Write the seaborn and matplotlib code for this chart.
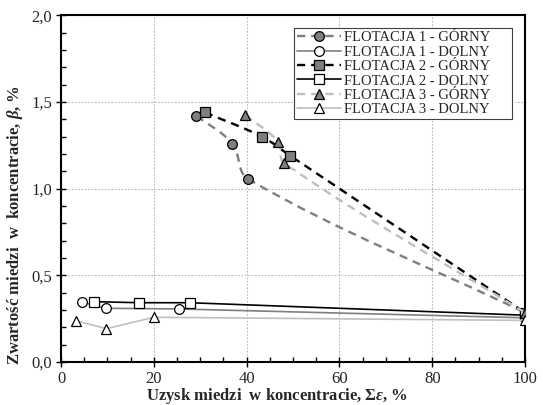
import numpy as np
import pandas as pd
import matplotlib
matplotlib.use("Agg")
import matplotlib.pyplot as plt
import seaborn as sns
from matplotlib.path import Path
from matplotlib.patches import PathPatch
from matplotlib.lines import Line2D
from matplotlib.ticker import MultipleLocator, FuncFormatter

# ---- data ----
f1g_x = [29.2, 36.9, 40.4, 100.0]
f1g_y = [1.42, 1.26, 1.054, 0.285]
f1d_x = [4.5, 9.8, 25.4, 100.0]
f1d_y = [0.345, 0.31, 0.306, 0.255]
f2g_x = [31.0, 43.3, 49.4, 100.0]
f2g_y = [1.44, 1.30, 1.19, 0.285]
f2d_x = [7.2, 16.9, 27.7, 100.0]
f2d_y = [0.348, 0.342, 0.342, 0.27]
f3g_x = [39.7, 46.8, 48.1, 100.0]
f3g_y = [1.425, 1.27, 1.147, 0.285]
f3d_x = [3.2, 9.8, 20.0, 100.0]
f3d_y = [0.238, 0.192, 0.258, 0.24]

labels = ["FLOTACJA 1 - GÓRNY", "FLOTACJA 1 - DOLNY",
          "FLOTACJA 2 - GÓRNY", "FLOTACJA 2 - DOLNY",
          "FLOTACJA 3 - GÓRNY", "FLOTACJA 3 - DOLNY"]
x_ticks = [0, 20, 40, 60, 80, 100]
y_ticks = [0.0, 0.5, 1.0, 1.5, 2.0]
x_label = "Uzysk miedzi  w koncentracie, Σ$\\varepsilon$, %"
y_label = "Zwartość miedzi  w  koncentracie, $\\beta$, %"

sns.set_theme(style="white")
plt.rcParams["font.family"] = ["Liberation Serif", "DejaVu Serif"]
plt.rcParams["mathtext.fontset"] = "custom"
plt.rcParams["mathtext.rm"] = "Liberation Serif:bold"
plt.rcParams["mathtext.it"] = "Liberation Serif:italic:bold"
plt.rcParams["mathtext.bf"] = "Liberation Serif:bold"

GRAY = "#7f7f7f"
LIGHT = "#bfbfbf"
BLACK = "#000000"

fig = plt.figure(figsize=(5.43, 4.05), dpi=100)
ax = fig.add_axes([61 / 543, 1 - 362 / 405, 464 / 543, 346.7 / 405])
ax.set_xlim(0, 100)
ax.set_ylim(0, 2.0)


def smooth_line(xs, ys, color, zorder, dashes):
    """Excel-like smoothed line through the data points (Bezier in display space)."""
    P = ax.transData.transform(np.column_stack([xs, ys]))
    n = len(P)
    tang = []
    for i in range(n):
        a = P[max(i - 1, 0)]
        b = P[min(i + 1, n - 1)]
        t = b - a
        tang.append(t / np.linalg.norm(t))
    verts = [P[0]]
    codes = [Path.MOVETO]
    for i in range(n - 1):
        L = np.linalg.norm(P[i + 1] - P[i])
        k = 0.36
        c1 = P[i] + tang[i] * L * k
        c2 = P[i + 1] - tang[i + 1] * L * k
        verts += [c1, c2, P[i + 1]]
        codes += [Path.CURVE4] * 3
    verts = ax.transData.inverted().transform(np.array(verts))
    patch = PathPatch(Path(verts, codes), fill=False, edgecolor=color,
                      linewidth=1.7, linestyle=(0, dashes), zorder=zorder,
                      transform=ax.transData, capstyle="butt")
    ax.add_patch(patch)


series = [
    (f1g_x, f1g_y, "G", GRAY, "o", 7.0, (3.5, 2.5)),
    (f1d_x, f1d_y, "D", GRAY, "o", 7.0, None),
    (f2g_x, f2g_y, "G", BLACK, "s", 6.5, (3.5, 2.5)),
    (f2d_x, f2d_y, "D", BLACK, "s", 6.5, None),
    (f3g_x, f3g_y, "G", LIGHT, "^", 7.0, (3.5, 2.5)),
    (f3d_x, f3d_y, "D", LIGHT, "^", 7.0, None),
]

handles = []
for i, (xs, ys, kind, col, mk, ms, dash) in enumerate(series):
    z = 3 + 2 * i
    if kind == "G":
        smooth_line(xs, ys, col, z, dash)
        sns.lineplot(x=xs, y=ys, sort=False, ax=ax, linestyle="none",
                     marker=mk, markersize=ms, markerfacecolor=GRAY,
                     markeredgecolor=BLACK, markeredgewidth=0.9,
                     zorder=z + 1, estimator=None)
        handles.append(Line2D([], [], color=col, linewidth=1.7,
                              linestyle=(0, dash), marker=mk, markersize=ms,
                              markerfacecolor=GRAY, markeredgecolor=BLACK,
                              markeredgewidth=0.9))
    else:
        sns.lineplot(x=xs, y=ys, sort=False, ax=ax, color=col, linewidth=1.2,
                     marker=mk, markersize=ms, markerfacecolor="white",
                     markeredgecolor=BLACK, markeredgewidth=0.9,
                     zorder=z, estimator=None)
        handles.append(Line2D([], [], color=col, linewidth=1.2,
                              marker=mk, markersize=ms, markerfacecolor="white",
                              markeredgecolor=BLACK, markeredgewidth=0.9))

ax.set_xlim(0, 100)
ax.set_ylim(0, 2.0)
ax.set_xticks(x_ticks)
ax.set_yticks(y_ticks)
ax.xaxis.set_minor_locator(MultipleLocator(5))
ax.yaxis.set_minor_locator(MultipleLocator(0.1))
ax.yaxis.set_major_formatter(FuncFormatter(lambda v, p: f"{v:.1f}".replace(".", ",")))
ax.xaxis.set_major_formatter(FuncFormatter(lambda v, p: f"{v:.0f}"))
ax.tick_params(axis="both", which="major", direction="inout", length=7,
               width=1.0, labelsize=12, color="black", pad=3,
               bottom=True, left=True)
ax.tick_params(axis="both", which="minor", direction="in", length=3.5,
               width=1.0, color="black", bottom=True, left=True)
for s in ax.spines.values():
    s.set_color("black")
    s.set_linewidth(1.5)
ax.grid(True, which="major", linestyle=(0, (1.5, 1.5)), color="#b8b8b8",
        linewidth=0.8, zorder=0)
ax.set_axisbelow(True)

ax.set_xlabel(x_label, fontsize=12, fontweight="bold")
ax.set_ylabel(y_label, fontsize=12, fontweight="bold")
ax.xaxis.set_label_coords(0.466, -0.07)
ax.yaxis.set_label_coords(-0.077, 0.395)

leg = ax.legend(handles, labels, loc="upper left",
                bbox_to_anchor=(0.502, 0.7625, 0.469, 0.2), borderaxespad=0,
                mode="expand",
                fontsize=10.5, frameon=True, fancybox=False, shadow=False,
                handlelength=3.0, handletextpad=0.2, borderpad=0.2,
                labelspacing=0.08, framealpha=1)
leg.get_frame().set_edgecolor("#404040")
leg.get_frame().set_linewidth(0.8)
leg.set_zorder(30)

fig.savefig("out.png", dpi=100)
